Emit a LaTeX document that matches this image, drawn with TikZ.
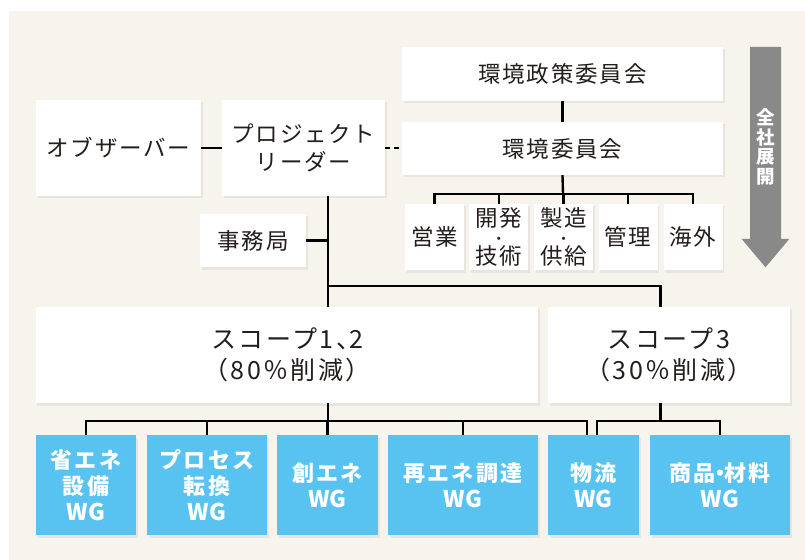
\documentclass[tikz,border=0pt]{standalone}
\usepackage{fontspec}
\newfontfamily\jp{Noto Sans CJK JP}[LetterSpace=8]
\newfontfamily\jpw{Noto Sans CJK JP}[LetterSpace=10]
\newfontfamily\jpn{Noto Sans CJK JP}
\usetikzlibrary{shadows}
\definecolor{bg}{RGB}{247,244,237}
\definecolor{wgblue}{RGB}{88,194,240}
\definecolor{arrowgray}{RGB}{137,137,137}
\definecolor{ink}{RGB}{35,30,28}
\tikzset{
  shadowed/.style={drop shadow={shadow xshift=1.5bp, shadow yshift=-2.5bp, opacity=0.12}},
  wbox/.style={shadowed, fill=white, inner sep=0pt, align=center, text=ink,
    font=\jp\fontsize{22.5bp}{27.5bp}\selectfont},
  deptbox/.style={wbox, minimum width=59bp, minimum height=66bp,
    font=\jp\fontsize{22.5bp}{17.5bp}\selectfont},
  scopebox/.style={wbox, minimum height=96bp,
    font=\jpw\fontsize{25bp}{31bp}\selectfont},
  wgbox/.style={shadowed, fill=wgblue, inner sep=0pt, align=center, text=white,
    minimum height=100bp, font=\jpw\bfseries\fontsize{22bp}{26bp}\selectfont},
  conn/.style={line width=2.4bp, black},
  dashconn/.style={conn, dash pattern=on 5bp off 4bp},
}
\newcommand{\middot}{{\fontsize{15bp}{13bp}\selectfont ・}}
\newcommand{\wgtext}{{\jpn\bfseries\fontsize{23bp}{26bp}\selectfont WG}}
\begin{document}
\begin{tikzpicture}[x=1bp,y=-1bp]
\fill[white] (0,0) rectangle (805,560);
\useasboundingbox (0,0) rectangle (805,560);
\fill[bg] (9,11) rectangle (805,560);

% top right committees
\node[wbox, minimum width=321bp, minimum height=54bp] (policy) at (562.5,74) {環境政策委員会};
\node[wbox, minimum width=321bp, minimum height=53bp] (env) at (562.5,148.5) {環境委員会};

% left
\node[wbox, minimum width=165bp, minimum height=96bp] (obs) at (118.5,148) {オブザーバー};
\node[wbox, minimum width=163bp, minimum height=96bp] (pl) at (303.5,148) {プロジェクト\\リーダー};
\node[wbox, minimum width=106bp, minimum height=53bp] (jimu) at (253,240.5) {事務局};

% departments
\node[deptbox] (d1) at (434.5,237) {営業};
\node[deptbox] (d2) at (498.8,237) {開発\\\middot\\技術};
\node[deptbox] (d3) at (563.5,237) {製造\\\middot\\供給};
\node[deptbox] (d4) at (628,237) {管理};
\node[deptbox] (d5) at (693,237) {海外};

% scopes
\node[scopebox, minimum width=502bp] (s12) at (287,355) {スコープ1、\kern-12bp 2\\（80％削減）};
\node[scopebox, minimum width=242bp] (s3) at (669,355) {スコープ3\\（30％削減）};

% working groups
\node[wgbox, minimum width=100bp] (b1) at (86,485) {省エネ\\設備\\\wgtext};
\node[wgbox, minimum width=120bp] (b2) at (207,485) {プロセス\\転換\\\wgtext};
\node[wgbox, minimum width=101bp] (b3) at (327.5,485) {創エネ\\\wgtext};
\node[wgbox, minimum width=150bp] (b4) at (463,485) {再エネ調達\\\wgtext};
\node[wgbox, minimum width=91bp] (b5) at (593.5,485) {物流\\\wgtext};
\node[wgbox, minimum width=140bp] (b6) at (720,485) {商品\kern-7bp・\kern-7bp 材料\\\wgtext};

% arrow
\fill[arrowgray] (750,47) -- (781,47) -- (781,239) -- (789.3,239) -- (765.5,267.3)
  -- (741.7,239) -- (750,239) -- cycle;
\node[text=white, align=center, inner sep=0pt,
  font=\jpn\bfseries\fontsize{18.5bp}{19.6bp}\selectfont] (spread) at (765.5,147) {全\\社\\展\\開};

% connector coordinates
\coordinate (dbar) at (563,194);
\coordinate (trunk) at (328,286);
\coordinate (s3x) at (660.5,286);
\coordinate (lb) at (328,421);
\coordinate (lbR) at (586.7,421);
\coordinate (lb3) at (597,421);
\coordinate (s3b) at (660.5,421);

% connectors
\draw[conn] (obs.east) -- (obs.east -| pl.west);
\draw[dashconn] (pl.east) -- (pl.east -| env.west);
\draw[conn] (policy.south) -- (env.north);
\draw[conn] (env.south) -- (dbar);
\draw[conn] (d1.north) -- (d1.north |- dbar) -- (d5.north |- dbar) -- (d5.north);
\draw[conn] (d2.north) -- (d2.north |- dbar);
\draw[conn] (d3.north) -- (d3.north |- dbar);
\draw[conn] (d4.north) -- (d4.north |- dbar);

\draw[conn] (trunk |- pl.south) -- (trunk |- s12.north);
\draw[conn] (jimu.east) -- (jimu.east -| trunk);
\draw[conn] (trunk) -- (s3x) -- (s3x |- s3.north);

\draw[conn] (lb |- s12.south) -- (lb);
\draw[conn] (b1.north) -- (b1.north |- lb) -- (lbR) -- (lbR |- b5.north);
\draw[conn] (b2.north) -- (b2.north |- lb);
\draw[conn] (b3.north) -- (b3.north |- lb);
\draw[conn] (b4.north) -- (b4.north |- lb);

\draw[conn] (s3b |- s3.south) -- (s3b);
\draw[conn] (lb3 |- b5.north) -- (lb3) -- (lb3 -| b6.north) -- (b6.north);
\end{tikzpicture}
\end{document}
